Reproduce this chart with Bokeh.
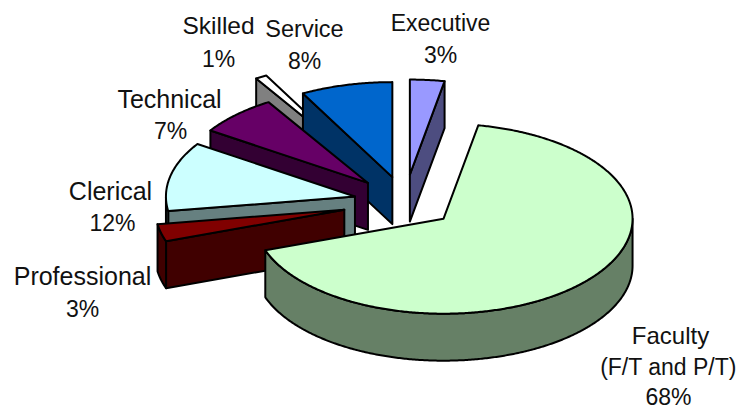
import numpy as np
from bokeh.embed import file_html
from bokeh.resources import INLINE
from bokeh.plotting import figure
from bokeh.models import Range1d, ColumnDataSource
from bokeh.core.properties import value

# Data (labels sum to 102 because of rounding)
categories = ["Executive", "Faculty", "Professional", "Clerical", "Technical", "Skilled", "Service"]
percents = [3, 68, 3, 12, 7, 1, 8]
top_colors = ["#9999FF", "#CCFFCC", "#800000", "#CCFFFF", "#660066", "#FFFFFF", "#0066CC"]
side_colors = ["#4D4D80", "#668066", "#400000", "#668080", "#330033", "#808080", "#003366"]
explode = [0.29, 0.27, 0.33, 0.27, 0.28, 0.52, 0.27]
draw_order = ["Skilled", "Service", "Technical", "Clerical", "Professional", "Executive", "Faculty"]

label_lines = ["Executive", "3%", "Skilled", "1%", "Service", "8%", "Technical", "7%",
               "Clerical", "12%", "Professional", "3%", "Faculty", "(F/T and P/T)", "68%"]
label_x = [440, 440, 218, 218, 304, 304, 169, 170, 110, 112, 82, 82, 670, 668, 668]
label_y = [22, 54, 25, 58, 28, 60, 98, 130, 190, 222, 275, 308, 335, 366, 396]
label_px = [23, 23, 24.5, 23, 23.5, 23, 25, 23, 25, 23, 25, 23, 24, 23, 23]

CX, CY, RX, RY, DEPTH = 404.3, 201.5, 189.0, 95.0, 47.0

total = sum(percents)
edges = np.concatenate([[0], np.cumsum(percents)]) / total * 360.0


def rim(ax, ay, t0, t1):
    t = np.radians(np.linspace(t0, t1, max(int(abs(t1 - t0)) * 2, 2) + 1))
    return ax + RX * np.sin(t), ay - RY * np.cos(t)


p = figure(width=739, height=409, output_backend="svg", toolbar_location=None,
           x_range=Range1d(0, 739), y_range=Range1d(409, 0), min_border=0,
           background_fill_color="white", border_fill_color="white")
p.axis.visible = False
p.grid.visible = False
p.outline_line_color = None

xs, ys, fills = [], [], []
for name in draw_order:
    i = categories.index(name)
    a, b = edges[i], edges[i + 1]
    mid = np.radians((a + b) / 2)
    ax = CX + explode[i] * RX * np.sin(mid)
    ay = CY - explode[i] * RY * np.cos(mid)
    # radial walls facing the viewer
    for t, visible in ((a, np.sin(np.radians(a)) < 0), (b, np.sin(np.radians(b)) > 0)):
        if visible:
            ex, ey = rim(ax, ay, t, t)
            ex, ey = ex[0], ey[0]
            xs.append([ax, ex, ex, ax])
            ys.append([ay, ey, ey + DEPTH, ay + DEPTH])
            fills.append(side_colors[i])
    # outer wall: front half only
    lo, hi = max(a, 90), min(b, 270)
    if hi > lo:
        rx_, ry_ = rim(ax, ay, lo, hi)
        xs.append(list(rx_) + list(rx_[::-1]))
        ys.append(list(ry_) + list(ry_[::-1] + DEPTH))
        fills.append(side_colors[i])
    # top face
    rx_, ry_ = rim(ax, ay, a, b)
    xs.append([ax] + list(rx_))
    ys.append([ay] + list(ry_))
    fills.append(top_colors[i])

# one glyph, in painter's order
p.patches(xs="xs", ys="ys", fill_color="fills", line_color="black", line_width=2,
          line_join="round", source=ColumnDataSource(dict(xs=xs, ys=ys, fills=fills)))

label_src = ColumnDataSource(dict(x=label_x, y=label_y, text=label_lines,
                                  size=[f"{s}px" for s in label_px]))
p.text(x="x", y="y", text="text", text_font=value("Liberation Sans"), source=label_src,
       text_font_size="size", text_color="#111111", text_align="center",
       text_baseline="middle")

open("out.html", "w").write(file_html(p, INLINE))
